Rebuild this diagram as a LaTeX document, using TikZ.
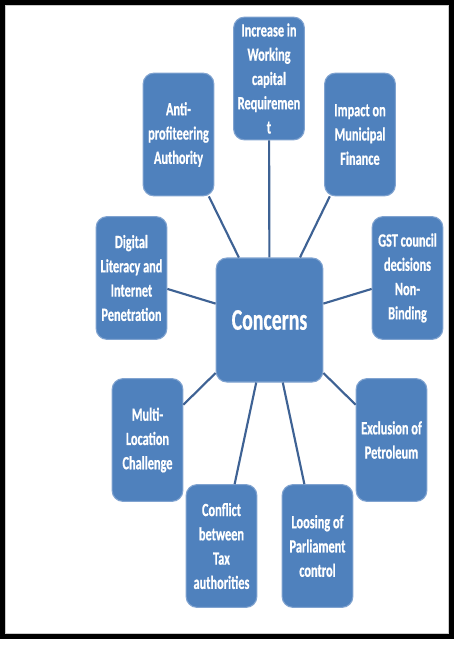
\documentclass[tikz,border=0pt]{standalone}
\usepackage{xcolor}
\usepackage{tikz}
\usepackage{fontspec}
\usetikzlibrary{positioning}
\newfontfamily\boxfont{Carlito}[FakeStretch=0.66,BoldFeatures={FakeBold=0.6}]
\definecolor{concernBlue}{RGB}{79, 129, 189}
\definecolor{edgeBlue}   {RGB}{128,163, 208}
\definecolor{linkBlue}   {RGB}{62,  98, 148}

\tikzset{
  concernbox/.style={draw=edgeBlue,fill=concernBlue,line width=0.8pt,rounded corners=8pt,
    minimum width=53pt,minimum height=92pt,text width=51pt,align=flush center,inner sep=1pt,
    text=white,font=\boxfont\bfseries\fontsize{14}{18.2}\selectfont},
  hubbox/.style={concernbox,minimum width=80pt,minimum height=93pt,text width=76pt,
    font=\boxfont\bfseries\fontsize{22.5}{26}\selectfont},
  link/.style={linkBlue,line width=1.6pt}
}

\begin{document}
\begin{tikzpicture}[x=0.75pt,y=-0.75pt]
        \useasboundingbox (0,0) rectangle (454,646);
        \fill[white] (0,0) rectangle (454,646);
        % frame
        \draw[line width=3.75pt] (2.5,2.5) rectangle (451.5,636.5);
        \draw[gray!40,line width=0.6pt] (5.8,5.8) rectangle (448.2,633.2);
        % hub and the concerns round it
        \node[hubbox] (concerns) at (269.5,320) {Concerns};
        \node[concernbox] (capital) at (269,78.5) {Increase in\\Working\\capital\\Requiremen\\t};
        \node[concernbox] (anti) at (178.5,134.5) {Anti-\\profiteering\\Authority};
        \node[concernbox] (municipal) at (360,134.5) {Impact on\\Municipal\\Finance};
        \node[concernbox] (digital) at (131.5,278) {Digital\\Literacy and\\Internet\\Penetration};
        \node[concernbox] (gst) at (407.5,278) {GST council\\decisions\\Non-\\Binding};
        \node[concernbox] (multi) at (147.5,440) {Multi-\\Location\\Challenge};
        \node[concernbox] (petroleum) at (391.5,440) {Exclusion of\\Petroleum};
        \node[concernbox] (conflict) at (221.5,546) {Conflict\\between\\Tax\\authorities};
        \node[concernbox] (parliament) at (317.5,546) {Loosing of\\Parliament\\control};
        % spokes
        \foreach \leaf in {capital,anti,municipal,digital,gst,multi,petroleum,conflict,parliament}{
          \draw[link] (concerns) -- (\leaf);
        }
      \end{tikzpicture}
\end{document}
